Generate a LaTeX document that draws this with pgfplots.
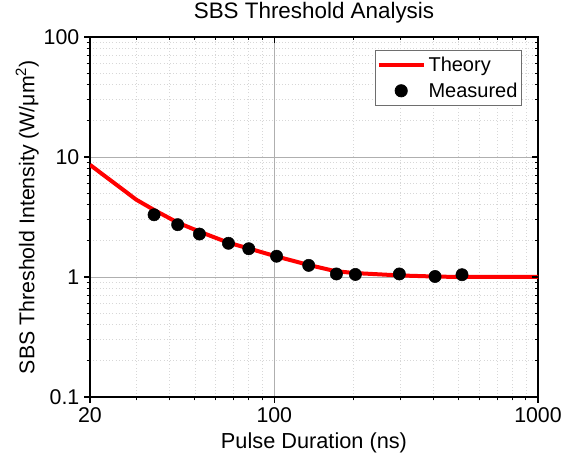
\documentclass[border=0pt]{standalone}
\usepackage{fontspec}
\setmainfont{Liberation Sans}
\usepackage{pgfplots}
\pgfplotsset{compat=1.18}
\definecolor{majgrid}{RGB}{175,175,175}
\definecolor{mingrid}{RGB}{215,215,215}
\definecolor{leggray}{RGB}{110,110,110}
\begin{document}
\begin{tikzpicture}
\begin{axis}[
  at={(0,0)}, anchor=south west,
  scale only axis, width=336pt, height=270pt,
  xmode=log, ymode=log,
  xmin=20, xmax=1000, ymin=0.1, ymax=100,
  xtick={20,100,1000},
  minor xtick={30,40,50,60,70,80,90,200,300,400,500,600,700,800,900},
  ytick={0.1,1,10,100},
  minor ytick={0.2,0.3,0.4,0.5,0.6,0.7,0.8,0.9,2,3,4,5,6,7,8,9,20,30,40,50,60,70,80,90},
  axis line style={line width=1pt, black},
  major tick length=4.5pt, minor tick length=2.5pt,
  every tick/.style={black, line width=0.8pt},
  tick align=outside, xtick pos=bottom, ytick pos=left,
  xticklabels={20,100,1000},
  yticklabels={0.1,1,10,100},
  tick label style={font=\fontsize{16}{19}\selectfont},
  grid=both,
  major grid style={majgrid, line width=0.6pt},
  minor grid style={mingrid, dotted, line width=0.6pt},
  title={SBS Threshold Analysis},
  title style={font=\fontsize{16.8}{20}\selectfont, at={(axis description cs:0.5,1.045)}, anchor=center},
  xlabel={Pulse Duration (ns)},
  xlabel style={font=\fontsize{16.3}{19}\selectfont, at={(axis description cs:0.5,-0.127)}, anchor=center},
  ylabel={SBS Threshold Intensity (W/μm\textsuperscript{2})},
  ylabel style={font=\fontsize{16}{19}\selectfont, at={(axis description cs:-0.14,0.5)}, anchor=center},
  legend style={at={(axis description cs:0.964,0.963)}, anchor=north east,
    draw=leggray, line width=0.6pt, fill=white,
    font=\fontsize{15}{18}\selectfont,
    inner xsep=1pt, inner ysep=2.5pt, row sep=3pt},
  legend cell align=left,
]
\addplot[red, line width=3pt, line join=round,
  legend image code/.code={\draw[red, line width=3pt] (0pt,0pt) -- (34pt,0pt);}]
  coordinates {
  (20,8.6) (30,4.4) (35,3.62) (43,2.84) (52,2.39) (67,1.93) (80,1.73)
  (100,1.50) (135,1.26) (170,1.12) (200,1.08) (300,1.03) (400,1.01)
  (500,1.0) (700,1.0) (1000,1.0)
  };
\addlegendentry{Theory}
\addplot[only marks, mark=*, mark size=4.6pt, black, mark options={fill=black},
  legend image code/.code={\fill[black] (17pt,0pt) circle (4.6pt);}]
  coordinates {
  (35,3.30) (43,2.73) (52,2.28) (67,1.91) (80,1.72) (102,1.49)
  (135,1.25) (172,1.06) (203,1.05) (298,1.06) (407,1.01) (515,1.045)
  };
\addlegendentry{Measured}
\end{axis}
\begin{axis}[
  at={(0,0)}, anchor=south west,
  scale only axis, width=336pt, height=270pt,
  xmode=log, ymode=log,
  xmin=20, xmax=1000, ymin=0.1, ymax=100,
  xtick={20,100,1000},
  minor xtick={30,40,50,60,70,80,90,200,300,400,500,600,700,800,900},
  ytick={0.1,1,10,100},
  minor ytick={0.2,0.3,0.4,0.5,0.6,0.7,0.8,0.9,2,3,4,5,6,7,8,9,20,30,40,50,60,70,80,90},
  major tick length=4.5pt, minor tick length=2.5pt,
  every tick/.style={black, line width=0.8pt},
  tick align=inside, xtick pos=top, ytick pos=right,
  xticklabels={}, yticklabels={},
  axis line style={draw=none},
]
\addplot[draw=none] coordinates {(20,1)};
\end{axis}
\pgfresetboundingbox
\useasboundingbox (-67.5pt,-53.25pt) rectangle (364.5pt,297.75pt);
\end{tikzpicture}
\end{document}
